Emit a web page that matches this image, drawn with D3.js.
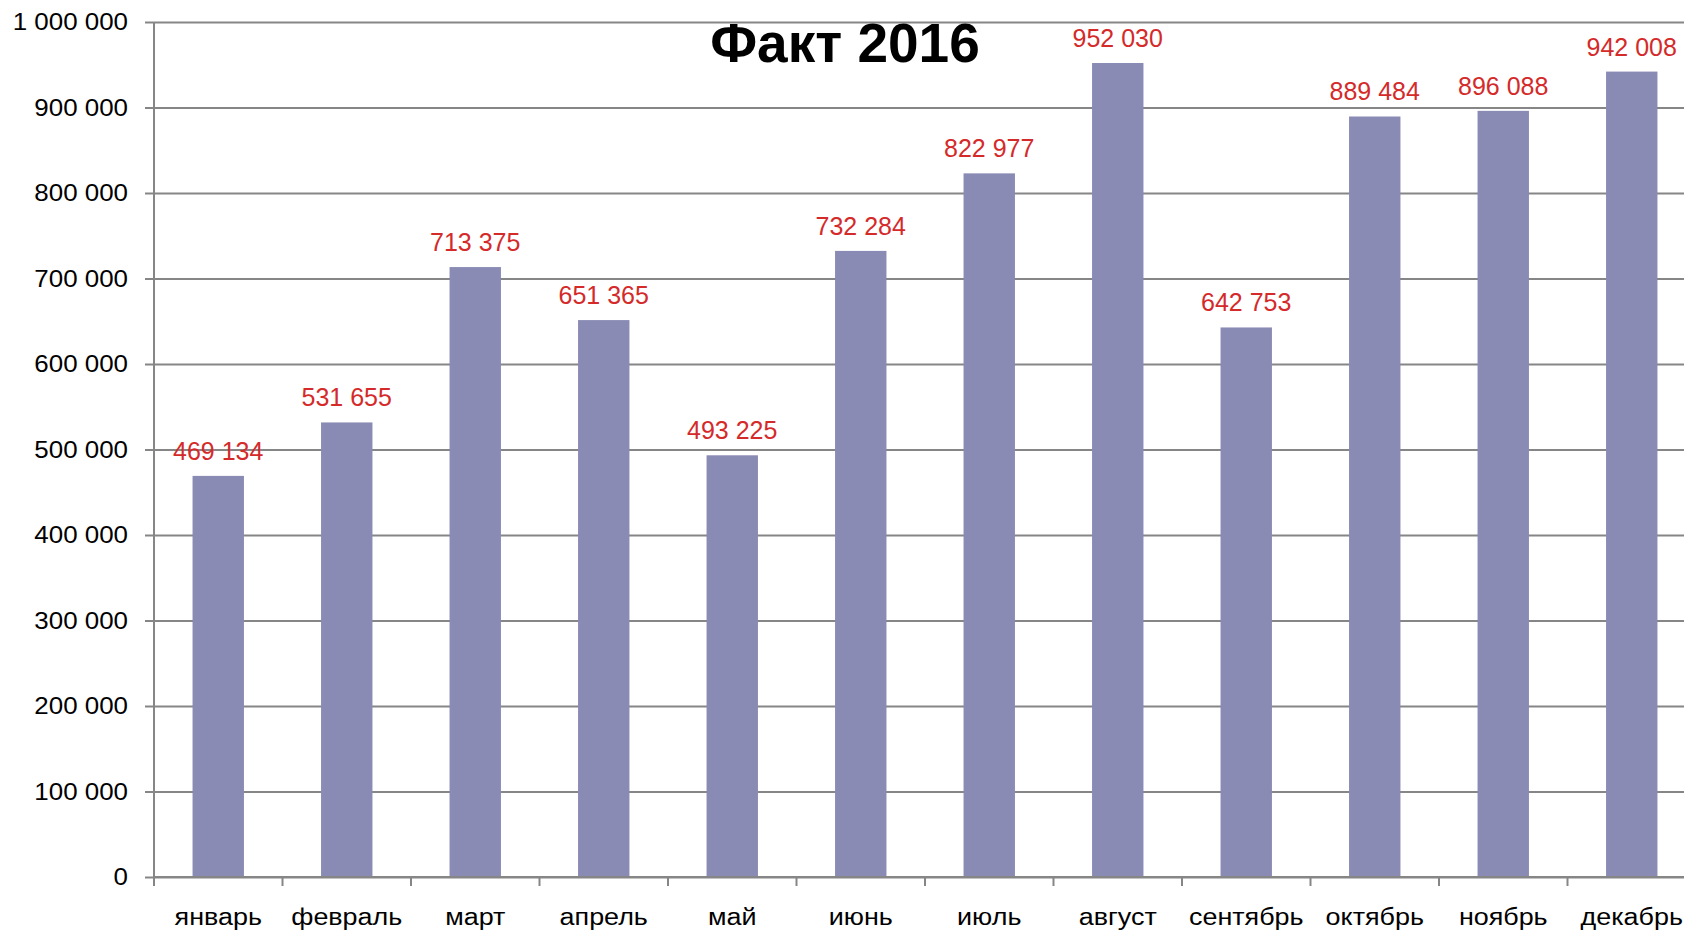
<!DOCTYPE html>
<html>
<head>
<meta charset="utf-8">
<script src="https://cdn.jsdelivr.net/npm/d3@7"></script>
<style>
  html, body { margin: 0; padding: 0; background: #fff; overflow: hidden; }
  svg { display: block; font-family: "Liberation Sans", Arial, sans-serif; }
</style>
</head>
<body>
<svg id="chart" width="1684" height="932"></svg>
<script>
// data
const months = ["январь", "февраль", "март", "апрель", "май", "июнь",
                "июль", "август", "сентябрь", "октябрь", "ноябрь", "декабрь"];
const facts = [469134, 531655, 713375, 651365, 493225, 732284,
               822977, 952030, 642753, 889484, 896088, 942008];
const yTicks = [0, 100000, 200000, 300000, 400000, 500000,
                600000, 700000, 800000, 900000, 1000000];
const title = "Факт 2016";

// layout
const plotLeft = 154, plotTop = 22, plotBottom = 877;
const band = 128.5;
const gridCol = "#868686";
const barCol = "#8A8BB5";
const labelCol = "#D42A2A";

const svg = d3.select("#chart");

// numbers like 1 000 000
const fmt = v => d3.format(",")(v).replace(/,/g, " ");

const x = d3.scaleBand()
  .domain(months)
  .range([plotLeft, plotLeft + band * months.length])
  .paddingInner(0.6)
  .paddingOuter(0.3);

const xEdge = d3.scaleBand()
  .domain(months)
  .range([plotLeft, plotLeft + band * months.length]);

const y = d3.scaleLinear()
  .domain([0, 1000000])
  .range([plotBottom, plotTop]);

// gridlines + y axis
const yAxis = svg.append("g")
  .attr("transform", `translate(${plotLeft},0)`)
  .call(d3.axisLeft(y).tickValues(yTicks).tickSize(-(1684 - plotLeft)).tickPadding(26).tickFormat(fmt));
yAxis.select(".domain").remove();
yAxis.selectAll(".tick line")
  .attr("x1", -9)
  .attr("stroke", gridCol)
  .attr("stroke-width", 2);
yAxis.selectAll(".tick text")
  .attr("fill", "#000")
  .style("font-size", "24px")
  .attr("transform", "scale(1.08,1)")
  .attr("x", -26 / 1.08);

// vertical axis line
svg.append("line")
  .attr("x1", plotLeft).attr("x2", plotLeft)
  .attr("y1", plotTop).attr("y2", plotBottom + 9)
  .attr("stroke", gridCol).attr("stroke-width", 2);

// bars
svg.append("g").selectAll("rect")
  .data(facts)
  .join("rect")
  .attr("x", (d, i) => x(months[i]))
  .attr("width", x.bandwidth())
  .attr("y", d => y(d))
  .attr("height", d => y(0) - y(d))
  .attr("fill", barCol);

// x axis with boundary ticks
svg.append("line")
  .attr("x1", plotLeft).attr("x2", 1684)
  .attr("y1", plotBottom).attr("y2", plotBottom)
  .attr("stroke", gridCol).attr("stroke-width", 2);
svg.append("g").selectAll("line")
  .data(months.slice(1))
  .join("line")
  .attr("x1", d => xEdge(d)).attr("x2", d => xEdge(d))
  .attr("y1", plotBottom).attr("y2", plotBottom + 9)
  .attr("stroke", gridCol).attr("stroke-width", 2);

// month labels
svg.append("g").selectAll("text")
  .data(months)
  .join("text")
  .attr("transform", d => `translate(${x(d) + x.bandwidth() / 2},925) scale(1.17,1)`)
  .attr("text-anchor", "middle")
  .style("font-size", "23px")
  .attr("fill", "#000")
  .text(d => d);

// value labels
svg.append("g").selectAll("text")
  .data(facts)
  .join("text")
  .attr("x", (d, i) => x(months[i]) + x.bandwidth() / 2)
  .attr("y", d => y(d) - 16)
  .attr("text-anchor", "middle")
  .style("font-size", "25px")
  .attr("fill", labelCol)
  .text(fmt);

// title
svg.append("text")
  .attr("x", 845)
  .attr("y", 62)
  .attr("text-anchor", "middle")
  .style("font-size", "55px")
  .style("font-weight", "bold")
  .attr("fill", "#000")
  .text(title);
</script>
</body>
</html>
